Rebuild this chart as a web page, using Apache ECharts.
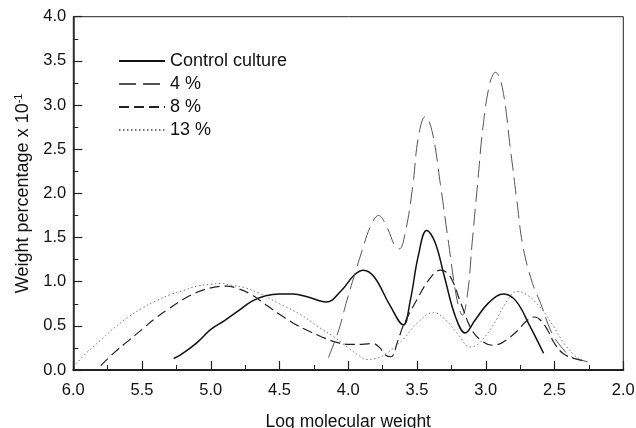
<!DOCTYPE html>
<html><head><meta charset="utf-8">
<script src="https://cdn.jsdelivr.net/npm/echarts@6/dist/echarts.min.js"></script>
<style>html,body{margin:0;padding:0;background:#fff}#c{width:636px;height:428px}</style>
</head><body><div id="c"></div>
<script>
const seriesNames = ['Control culture', '4 %', '8 %', '13 %'];
const xTicks = [6.0, 5.5, 5.0, 4.5, 4.0, 3.5, 3.0, 2.5, 2.0];
const yTicks = [0.0, 0.5, 1.0, 1.5, 2.0, 2.5, 3.0, 3.5, 4.0];

const control = [[5.27,0.13],[5.22,0.17],[5.1,0.31],[5.0,0.46],[4.9,0.56],[4.8,0.67],[4.7,0.78],[4.6,0.84],[4.5,0.86],[4.4,0.86],[4.3,0.83],[4.16,0.77],[4.05,0.9],[3.96,1.07],[3.89,1.13],[3.81,1.05],[3.7,0.74],[3.6,0.51],[3.55,0.78],[3.49,1.3],[3.43,1.58],[3.37,1.45],[3.3,1.05],[3.22,0.6],[3.15,0.42],[3.08,0.56],[2.98,0.76],[2.87,0.86],[2.78,0.78],[2.68,0.5],[2.58,0.19]];
const pct4 = [[4.145,0.14],[4.07,0.45],[4.01,0.79],[3.95,1.1],[3.9,1.35],[3.84,1.62],[3.78,1.75],[3.72,1.62],[3.66,1.4],[3.63,1.37],[3.58,1.6],[3.53,2.1],[3.49,2.64],[3.44,2.87],[3.39,2.7],[3.33,2.1],[3.27,1.43],[3.21,0.8],[3.17,0.62],[3.13,0.9],[3.1,1.43],[3.06,2.1],[3.02,2.76],[2.97,3.25],[2.93,3.37],[2.88,3.2],[2.82,2.49],[2.775,1.93],[2.73,1.4],[2.66,0.98],[2.6,0.75],[2.52,0.42],[2.44,0.24],[2.38,0.15],[2.3,0.11],[2.25,0.09]];
const pct8 = [[5.8,0.05],[5.7,0.2],[5.6,0.33],[5.5,0.46],[5.4,0.59],[5.3,0.7],[5.2,0.8],[5.1,0.88],[5.0,0.93],[4.89,0.95],[4.8,0.92],[4.7,0.85],[4.6,0.74],[4.5,0.63],[4.4,0.53],[4.3,0.45],[4.2,0.38],[4.1,0.32],[4.0,0.29],[3.9,0.29],[3.82,0.3],[3.77,0.25],[3.73,0.17],[3.69,0.15],[3.64,0.33],[3.6,0.5],[3.5,0.8],[3.4,1.05],[3.33,1.13],[3.26,1.06],[3.18,0.75],[3.1,0.45],[3.02,0.32],[2.95,0.28],[2.88,0.31],[2.78,0.43],[2.7,0.56],[2.645,0.6],[2.6,0.56],[2.55,0.45],[2.5,0.3],[2.44,0.19],[2.36,0.13],[2.27,0.1]];
const pct13 = [[5.98,0.07],[5.9,0.2],[5.8,0.34],[5.7,0.48],[5.6,0.6],[5.5,0.7],[5.4,0.78],[5.3,0.85],[5.2,0.9],[5.1,0.95],[5.0,0.97],[4.93,0.98],[4.85,0.96],[4.75,0.93],[4.65,0.87],[4.5,0.75],[4.35,0.63],[4.2,0.47],[4.1,0.37],[4.0,0.25],[3.92,0.16],[3.87,0.12],[3.8,0.13],[3.72,0.19],[3.6,0.35],[3.5,0.53],[3.38,0.65],[3.3,0.58],[3.2,0.4],[3.115,0.26],[3.05,0.3],[2.95,0.5],[2.85,0.77],[2.775,0.89],[2.7,0.85],[2.6,0.7],[2.51,0.5],[2.43,0.3],[2.35,0.16],[2.3,0.11]];

const FONT = '"Liberation Sans", Arial, Helvetica, sans-serif';
const chart = echarts.init(document.getElementById('c'), null, {renderer: 'canvas'});
const styles = [
  {color: '#111', width: 1.5, type: 'solid'},
  {color: '#555', width: 1, type: [17, 7]},
  {color: '#222', width: 1.2, type: [10, 5]},
  {color: '#777', width: 1, type: [1.5, 2.5]}
];
const datasets = [control, pct4, pct8, pct13];
chart.setOption({
  animation: false,
  backgroundColor: '#fff',
  grid: {left: 73.3, right: 12.7, top: 16.7, bottom: 58, containLabel: false, outerBoundsMode: 'none',
    show: true, borderColor: '#222', borderWidth: 1, backgroundColor: 'transparent'},
  legend: {
    orient: 'vertical', left: 118, top: 52, padding: 0, itemWidth: 46, itemHeight: 14, itemGap: 5,
    data: seriesNames,
    itemStyle: {opacity: 0},
    textStyle: {fontFamily: FONT, fontSize: 18, color: '#111'}
  },
  xAxis: {
    type: 'value', min: 2, max: 6, interval: 0.5, inverse: true,
    name: 'Log molecular weight', nameLocation: 'middle', nameGap: 43,
    nameTextStyle: {fontFamily: FONT, fontSize: 17.5, color: '#111'},
    axisLine: {lineStyle: {color: '#222', width: 2}},
    axisTick: {inside: true, length: 9, lineStyle: {color: '#222', width: 1.2}},
    minorTick: {show: true, splitNumber: 2, length: 5, lineStyle: {color: '#222', width: 1}},
    splitLine: {show: false},
    axisLabel: {fontFamily: FONT, fontSize: 16.5, color: '#111', margin: 12,
      formatter: v => xTicks.includes(v) ? v.toFixed(1) : ''}
  },
  yAxis: {
    type: 'value', min: 0, max: 4, interval: 0.5,
    name: 'Weight percentage x 10{sup|-1}', nameLocation: 'middle', nameGap: 40, nameRotate: 90,
    nameTextStyle: {fontFamily: FONT, fontSize: 18, color: '#111',
      rich: {sup: {fontFamily: FONT, fontSize: 11, color: '#111', verticalAlign: 'top', padding: [0,0,8,0]}}},
    axisLine: {lineStyle: {color: '#222', width: 1.5}},
    axisTick: {inside: true, length: 9, lineStyle: {color: '#222', width: 1.2}},
    minorTick: {show: true, splitNumber: 2, length: 5, lineStyle: {color: '#222', width: 1}},
    splitLine: {show: false},
    axisLabel: {fontFamily: FONT, fontSize: 16.5, color: '#111', margin: 7,
      formatter: v => yTicks.includes(v) ? v.toFixed(1) : ''}
  },
  series: seriesNames.map((n, i) => ({
    name: n, type: 'line', data: datasets[i], smooth: 0.4, showSymbol: false, symbol: 'none',
    lineStyle: styles[i], itemStyle: {color: styles[i].color}
  }))
});
</script></body></html>
